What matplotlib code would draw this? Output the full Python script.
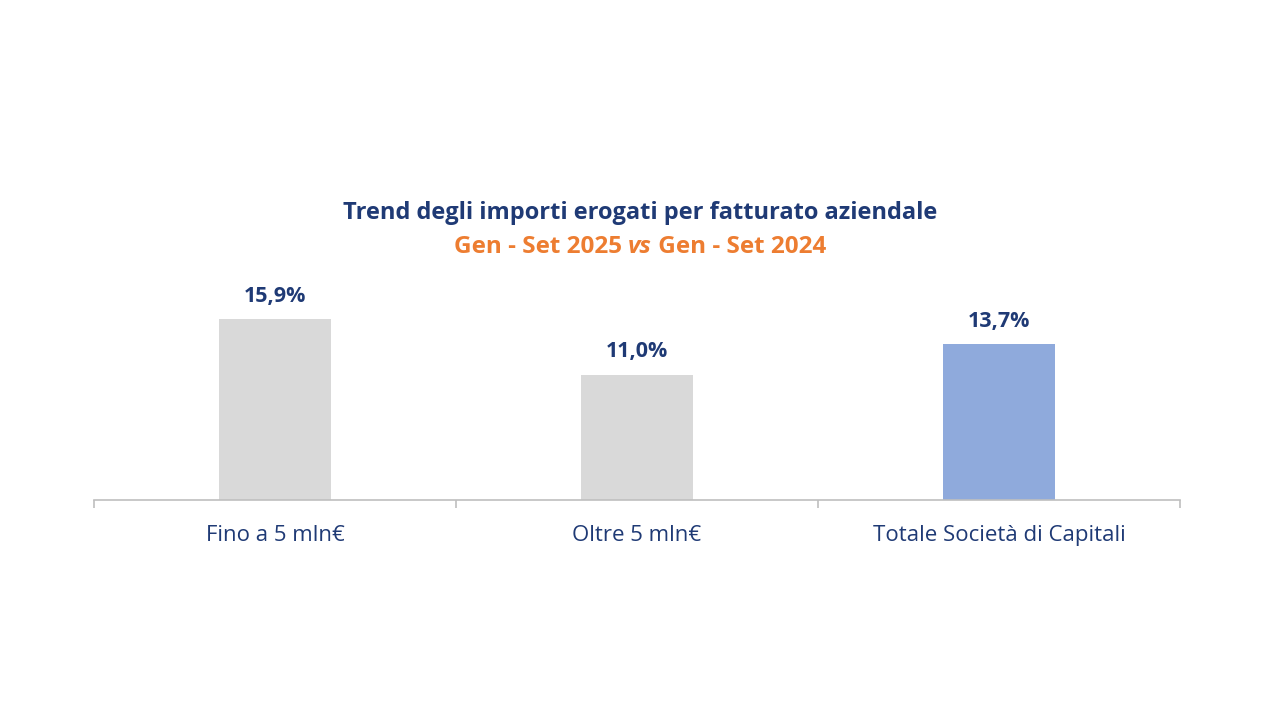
import matplotlib
matplotlib.use('Agg')
import matplotlib.pyplot as plt

plt.rcParams['font.family'] = ['Open Sans', 'DejaVu Sans']

categories = ['Fino a 5 mln€', 'Oltre 5 mln€', 'Totale Società di Capitali']
values = [15.9, 11.0, 13.7]
bar_colors = ['#d9d9d9', '#d9d9d9', '#8faadc']
value_labels = ['15,9%', '11,0%', '13,7%']

navy = '#1f3a75'
orange = '#ed7d31'

fig = plt.figure(figsize=(12.8, 7.2), dpi=100)
ax = fig.add_axes([94/1280, 1 - 500/720, (1180 - 94)/1280, 220/720])

x = range(len(categories))
bars = ax.bar(x, values, width=0.31, color=bar_colors)
for b, lab in zip(bars, value_labels):
    ax.annotate(lab, (b.get_x() + b.get_width()/2, b.get_height()),
                xytext=(0, 9), textcoords='offset points', ha='center', va='bottom',
                fontsize=15.5, fontweight='bold', color=navy)

ax.set_xlim(-0.5, 2.5)
ax.set_ylim(0, 220/11.38)
ax.set_xticks(list(x))
ax.set_xticklabels(categories, fontsize=16, color=navy)
ax.tick_params(axis='x', length=0, pad=18)
ax.set_xticks([-0.5, 0.5, 1.5, 2.5], minor=True)
ax.tick_params(axis='x', which='minor', length=6, color='#bfbfbf', width=1.2)
ax.set_yticks([])
for s in ['top', 'right', 'left']:
    ax.spines[s].set_visible(False)
ax.spines['bottom'].set_color('#bfbfbf')
ax.spines['bottom'].set_linewidth(1.2)

fig.text(0.5, 1 - 213/720, 'Trend degli importi erogati per fatturato aziendale',
         ha='center', va='center', fontsize=17, fontweight='bold', color=navy)

# subtitle with italic "vs"
parts = [('Gen - Set 2025 ', 'normal'), ('vs', 'italic'), (' Gen - Set 2024', 'normal')]
renderer = fig.canvas.get_renderer()
texts = []
for s, st in parts:
    t = fig.text(0, 1 - 247/720, s, ha='left', va='center', fontsize=17.5,
                 fontweight='bold', fontstyle=st, color=orange)
    texts.append(t)
widths = [t.get_window_extent(renderer).width / fig.bbox.width for t in texts]
xpos = 0.5 - sum(widths)/2
for t, w in zip(texts, widths):
    t.set_x(xpos)
    xpos += w

fig.savefig('out.png', dpi=100, facecolor='white')
